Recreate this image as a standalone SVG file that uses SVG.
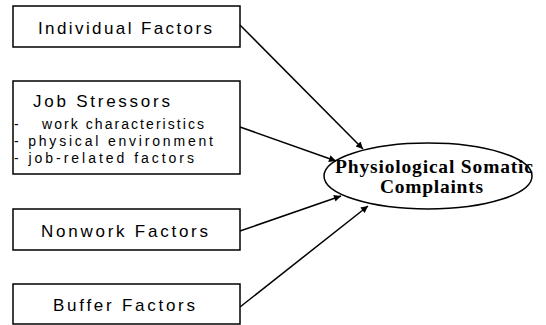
<svg xmlns="http://www.w3.org/2000/svg" width="546" height="325" viewBox="0 0 546 325">
<defs>
<style>
.box{fill:#fff;stroke:#000;stroke-width:1.5}
.lbl{font-family:"Liberation Sans",Arial,sans-serif;font-size:17px;fill:#000}
.sub{font-family:"Liberation Sans",Arial,sans-serif;font-size:14px;fill:#000}
.tgt{font-family:"Liberation Serif","Times New Roman",serif;font-size:19.5px;font-weight:bold;fill:#000}
.con{fill:none;stroke:#000;stroke-width:1.5;marker-end:url(#ah)}
</style>
<marker id="ah" viewBox="0 0 10 10" refX="10" refY="5" markerWidth="9" markerHeight="7" markerUnits="userSpaceOnUse" orient="auto">
<path d="M0,0 L10,5 L0,10 z" fill="#000"/>
</marker>
</defs>
<rect width="546" height="325" fill="#fff"/>
<g id="individual">
<rect class="box" x="13" y="6" width="227" height="41"/>
<text class="lbl" x="38" y="34" textLength="174" lengthAdjust="spacing">Individual Factors</text>
</g>
<g id="job">
<rect class="box" x="13" y="81" width="227" height="93"/>
<text class="lbl" x="33" y="107" textLength="137" lengthAdjust="spacing">Job Stressors</text>
<text class="sub" x="14" y="129">-</text>
<text class="sub" x="42" y="129" textLength="162" lengthAdjust="spacing">work characteristics</text>
<text class="sub" x="14" y="146" textLength="199" lengthAdjust="spacing">- physical environment</text>
<text class="sub" x="14" y="163" textLength="180" lengthAdjust="spacing">- job-related factors</text>
</g>
<g id="nonwork">
<rect class="box" x="13" y="209" width="227" height="41"/>
<text class="lbl" x="41" y="237" textLength="167" lengthAdjust="spacing">Nonwork Factors</text>
</g>
<g id="buffer">
<rect class="box" x="13" y="284" width="227" height="40"/>
<text class="lbl" x="53" y="311" textLength="142" lengthAdjust="spacing">Buffer Factors</text>
</g>
<g id="complaints">
<ellipse cx="428" cy="176" rx="104" ry="33" fill="#fff" stroke="#000" stroke-width="1.5"/>
<text class="tgt" x="335" y="173" textLength="198" lengthAdjust="spacing">Physiological Somatic</text>
<text class="tgt" x="380" y="193" textLength="103" lengthAdjust="spacing">Complaints</text>
</g>
<g id="connectors">
<line class="con" x1="240" y1="25" x2="363" y2="149"/>
<line class="con" x1="240" y1="127" x2="336" y2="161"/>
<line class="con" x1="240" y1="231" x2="341" y2="196"/>
<line class="con" x1="240" y1="307" x2="368" y2="206"/>
</g>
</svg>
